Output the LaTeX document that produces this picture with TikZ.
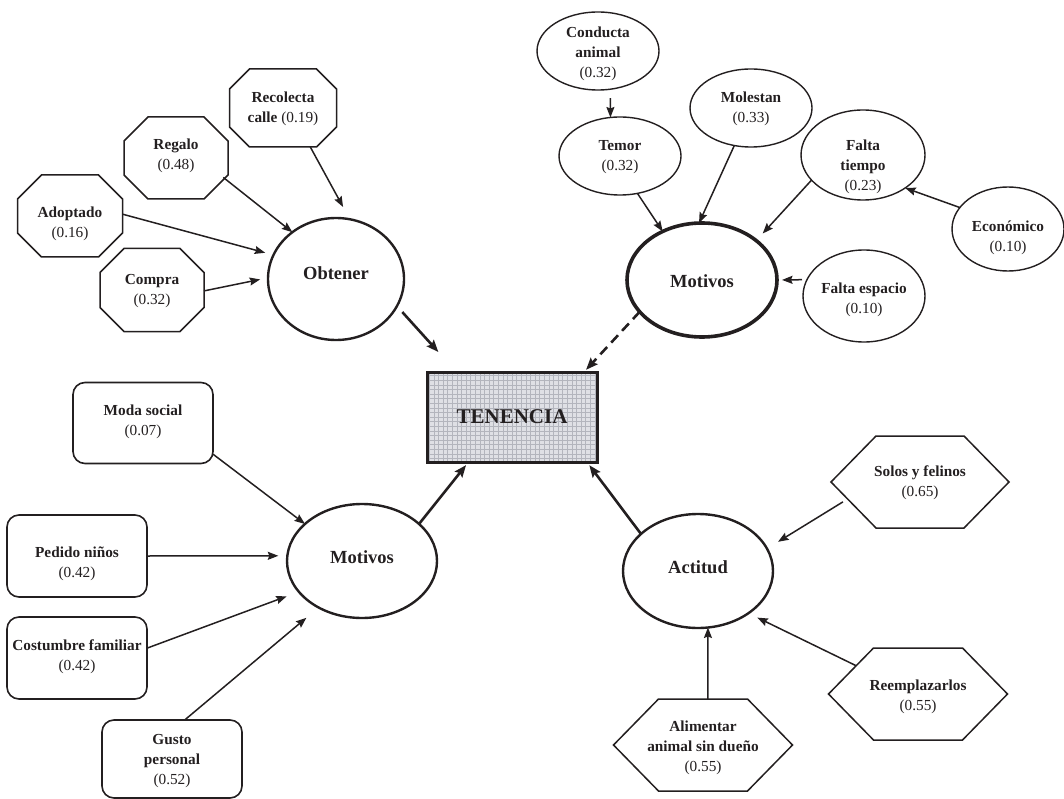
\documentclass[tikz,border=0pt]{standalone}
\usepackage{fontspec}
\setmainfont{Liberation Serif}
\usetikzlibrary{arrows.meta,shapes.geometric}
\definecolor{ink}{HTML}{231F20}
\definecolor{tenfill}{HTML}{DFE0E5}
\definecolor{tengrid}{HTML}{B3B5BD}
\newcommand\lbl{\fontsize{15.3}{20}\selectfont}
\newcommand\tb[2][0pt]{\makebox[0pt]{\raisebox{\dimexpr #1-3.8pt\relax}[0pt][0pt]{\begin{tabular}{@{}c@{}}#2\end{tabular}}}}
\newcommand\drawocta[2]{\draw[shapeline] ([xshift=#2]#1.north west) -- ([xshift=-#2]#1.north east) -- ([yshift=-#2]#1.north east) -- ([yshift=#2]#1.south east) -- ([xshift=-#2]#1.south east) -- ([xshift=#2]#1.south west) -- ([yshift=#2]#1.south west) -- ([yshift=-#2]#1.north west) -- cycle;}
\newcommand\drawhexa[2]{\draw[shapeline] (#1.west) -- ([xshift=#2]#1.north west) -- ([xshift=-#2]#1.north east) -- (#1.east) -- ([xshift=-#2]#1.south east) -- ([xshift=#2]#1.south west) -- cycle;}
\begin{document}
\begin{tikzpicture}[x=1pt,y=-1pt,
  nbox/.style={inner sep=0pt, outer sep=0pt, text=ink, font=\lbl},
  myoct/.style={nbox, rectangle},
  myhex/.style={nbox, rectangle, minimum width=178pt, minimum height=92pt},
  myell/.style={nbox, ellipse, draw=ink, line width=1.4pt},
  mybig/.style={nbox, ellipse, draw=ink, line width=2.4pt, font=\fontsize{18.5}{22}\selectfont\bfseries, minimum width=150pt, minimum height=114pt},
  myrbox/.style={nbox, rectangle, draw=ink, line width=1.6pt, rounded corners=12pt, minimum width=140pt, minimum height=81pt},
  shapeline/.style={draw=ink, line width=1.5pt, line join=miter},
  conn/.style={draw=ink, line width=1.5pt, -{Stealth[length=10.5pt,width=8pt,inset=1.5pt]}},
  tconn/.style={draw=ink, line width=2.6pt, -{Stealth[length=12pt,width=9.5pt,inset=2pt]}}
]
\useasboundingbox (0,0) rectangle (1064,799);

% ---- Obtener group
\node[myoct, minimum width=107pt, minimum height=78pt] (rec) at (283,108) {\tb{\textbf{Recolecta}\\\textbf{calle} (0.19)}};
\node[myoct, minimum width=104pt, minimum height=82pt] (reg) at (176,158) {\tb[3pt]{\textbf{Regalo}\\(0.48)}};
\node[myoct, minimum width=105pt, minimum height=82pt] (ado) at (70,216) {\tb[-7pt]{\textbf{Adoptado}\\(0.16)}};
\node[myoct, minimum width=104pt, minimum height=83pt] (com) at (152,290) {\tb{\textbf{Compra}\\(0.32)}};
\drawocta{rec}{20pt}
\drawocta{reg}{24pt}
\drawocta{ado}{24pt}
\drawocta{com}{24pt}
\node[mybig, minimum width=136pt, minimum height=122pt] (obt) at (336,279) {\tb[3pt]{Obtener}};

% ---- TENENCIA
\node[nbox, draw=ink, line width=3pt, fill=tenfill, minimum width=170pt, minimum height=90pt,
  font=\fontsize{21}{24}\selectfont\bfseries,
  path picture={\draw[tengrid, line width=0.3pt, step=4.6pt] (path picture bounding box.south west) grid (path picture bounding box.north east);}]
  (ten) at (512,417) {\tb[-3pt]{TENENCIA}};

% ---- Motivos (top)
\node[mybig, line width=3.6pt] (mot1) at (702,280) {\tb[-4pt]{Motivos}};
\node[myell, minimum width=122pt, minimum height=78pt] (con) at (598,51) {\tb[-2pt]{\textbf{Conducta}\\\textbf{animal}\\(0.32)}};
\node[myell, minimum width=122pt, minimum height=78pt] (tem) at (620,156) {\tb{\textbf{Temor}\\(0.32)}};
\node[myell, minimum width=122pt, minimum height=78pt] (mol) at (751,108) {\tb{\textbf{Molestan}\\(0.33)}};
\node[myell, minimum width=124pt, minimum height=90pt] (fti) at (863,155) {\tb[-11pt]{\textbf{Falta}\\\textbf{tiempo}\\(0.23)}};
\node[myell, minimum width=112pt, minimum height=84pt] (eco) at (1008,229) {\tb[-8pt]{\textbf{Económico}\\(0.10)}};
\node[myell, minimum width=122pt, minimum height=92pt] (fes) at (864,296) {\tb[-3pt]{\textbf{Falta espacio}\\(0.10)}};

% ---- Motivos (bottom)
\node[mybig] (mot2) at (362,561) {\tb[1pt]{Motivos}};
\node[myrbox] (mod) at (143,423) {\tb[2pt]{\textbf{Moda social}\\(0.07)}};
\node[myrbox, minimum height=82pt] (ped) at (77,556) {\tb[-7pt]{\textbf{Pedido niños}\\(0.42)}};
\node[myrbox, minimum height=82pt] (cos) at (77,658) {\tb[2pt]{\textbf{Costumbre familiar}\\(0.42)}};
\node[myrbox, minimum height=78pt] (gus) at (172,759) {\tb[-1pt]{\textbf{Gusto}\\\textbf{personal}\\(0.52)}};

% ---- Actitud
\node[mybig] (act) at (698,571) {\tb[1pt]{Actitud}};
\node[myhex] (sol) at (920,482) {\tb{\textbf{Solos y felinos}\\(0.65)}};
\node[myhex, minimum width=179pt] (rem) at (918,694) {\tb[-2pt]{\textbf{Reemplazarlos}\\(0.55)}};
\node[myhex, minimum width=179pt] (ali) at (703,745) {\tb[-2pt]{\textbf{Alimentar}\\\textbf{animal sin dueño}\\(0.55)}};
\drawhexa{sol}{45pt}
\drawhexa{rem}{45pt}
\drawhexa{ali}{45pt}

% ---- connectors
\draw[conn, shorten >=14pt] (rec.-55) -- (obt.77);
\draw[conn, shorten <=-6pt] (reg.-24.8) -- (obt.133.7);
\draw[conn, shorten >=8.6pt] (ado.2) -- (obt.159.3);
\draw[conn, shorten >=8pt] (com.-1) -- (obt.179.5);
\draw[tconn, shorten <=8pt, shorten >=27pt] (obt.-24.8) -- (ten.141.7);

\draw[conn, shorten <=9pt] (con.-72.6) -- (tem.104.6);
\draw[conn] (tem.-65.9) -- (mot1.129.8);
\draw[conn] (mol.-114.2) -- (mot1.93);
\draw[conn, shorten >=9.6pt] (fti.-154.8) -- (mot1.36.8);
\draw[conn] (eco.156.4) -- (fti.-38.2);
\draw[conn, shorten <=5pt, shorten >=5pt] (fes.164.4) -- (mot1.0);
\draw[tconn, dash pattern=on 10pt off 6pt, shorten >=3pt] (mot1.207.6) -- (ten.32.7);

\draw[conn] (mod.-24.6) -- (mot2.147.3);
\draw[conn, shorten >=9pt] (ped.0) -- (mot2.176.2);
\draw[conn, shorten >=13pt] (cos.8.9) -- (mot2.206.7);
\draw[conn, shorten >=16pt] (gus.72.4) -- (mot2.-133);
\draw[tconn, shorten >=4pt] (mot2.33.5) -- (ten.-134.8);

\draw[tconn, shorten >=4pt] (act.147.3) -- (ten.-31.8);
\draw[conn, shorten <=-14pt, shorten >=13pt] (sol.197.6) -- (act.18);
\draw[conn, shorten <=-31pt, shorten >=10pt] (rem.155.4) -- (act.-40.5);
\draw[conn] (ali.84) -- (act.-80);
\end{tikzpicture}
\end{document}
